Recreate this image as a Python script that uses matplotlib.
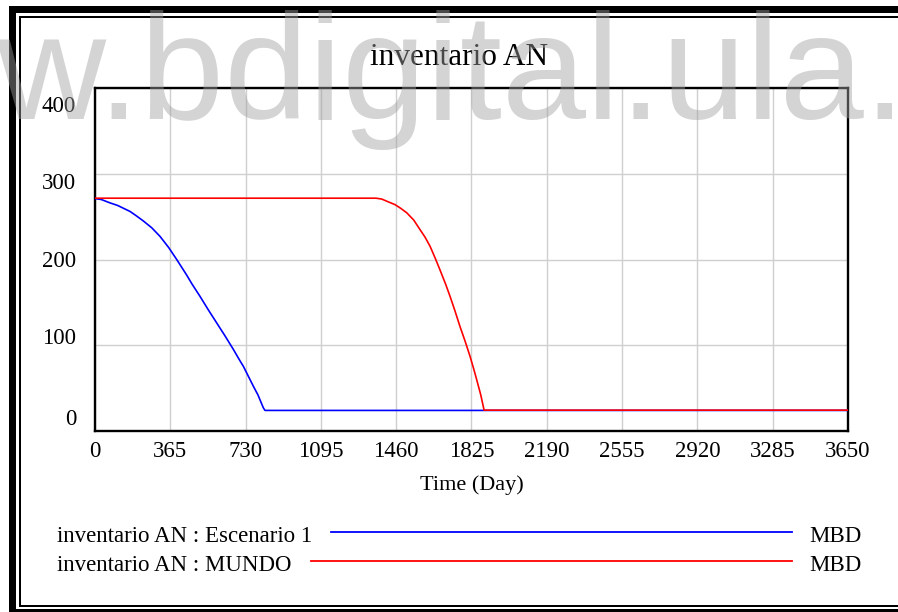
import matplotlib
matplotlib.use("Agg")
import matplotlib.pyplot as plt
from matplotlib.patches import Rectangle
from matplotlib.lines import Line2D
from matplotlib.transforms import ScaledTranslation

# ---------------- data ----------------
title = "inventario AN"
x_label = "Time (Day)"
x_ticks = [0, 365, 730, 1095, 1460, 1825, 2190, 2555, 2920, 3285, 3650]
y_ticks = [0, 100, 200, 300, 400]

series_names = ["inventario AN : Escenario 1", "inventario AN : MUNDO"]
series_units = ["MBD", "MBD"]
series_colors = ["#0000ff", "#ff0000"]

esc1_days = [0, 30, 73, 110, 170, 200, 234, 275, 315, 357, 396, 444, 470, 509,
             550, 590, 630, 671, 700, 719, 768, 790, 816, 824, 3650]
esc1_vals = [271, 270, 266, 263, 256, 251, 245, 237, 227, 214, 200, 182, 171.5, 157,
             141, 126, 111, 95, 83, 75.5, 52, 42, 27, 24, 24]

mundo_days = [0, 1362, 1390, 1414, 1454, 1480, 1511, 1545, 1575, 1600, 1624, 1650,
              1672, 1700, 1721, 1745, 1769, 1795, 1818, 1835, 1850, 1870, 1886, 3650]
mundo_vals = [271.5, 271.5, 270.5, 268, 264, 260, 254.5, 246, 235, 226, 215.5, 201,
              188, 171, 157, 140, 122, 104, 87, 73, 60, 42, 24.3, 24.3]

watermark = "www.bdigital.ula.ve"

# ---------------- layout ----------------
W, H, DPI = 898, 612, 100
plt.rcParams["font.family"] = ["Liberation Serif", "DejaVu Serif"]

fig = plt.figure(figsize=(W / DPI, H / DPI), dpi=DPI)
fig.patch.set_facecolor("white")


def fx(px):
    return px / W


def fy(py):
    return 1 - py / H


L, R, T, B = 95, 848, 88, 431
ax = fig.add_axes([fx(L), fy(B), (R - L) / W, (B - T) / H])
ax.set_xlim(x_ticks[0], x_ticks[-1])
ax.set_ylim(y_ticks[0], y_ticks[-1])
ax.set_axisbelow(True)
ax.grid(True, color="#cfcfcf", lw=1.0)
for s in ax.spines.values():
    s.set_linewidth(1.7)
    s.set_color("black")

ax.set_xticks(x_ticks)
ax.set_xticklabels([str(v) for v in x_ticks])
ax.set_yticks(y_ticks)
ax.set_yticklabels([str(v) for v in y_ticks])
ax.tick_params(axis="both", length=0, labelsize=16.5)
ax.tick_params(axis="x", pad=7)
ax.tick_params(axis="y", pad=13.5)

# Vensim places y labels slightly compressed relative to grid lines
y_label_offsets_px = [-6, -1, 7.2, 15.5, 24]
for tick, off in zip(ax.yaxis.get_major_ticks(), y_label_offsets_px):
    tick.label1.set_va("baseline")
    tick.label1.set_transform(tick.label1.get_transform()
                              + ScaledTranslation(0, -off / DPI, fig.dpi_scale_trans))

ax.plot(esc1_days, esc1_vals, color=series_colors[0], lw=1.2, zorder=3)
ax.plot(mundo_days, mundo_vals, color=series_colors[1], lw=1.2, zorder=4)

ax.set_xlabel(x_label, fontsize=16)
ax.xaxis.set_label_coords(0.5, (B - 490) / (B - T))
ax.xaxis.label.set_va("baseline")

fig.text(fx(459), fy(65), title, ha="center", va="baseline", fontsize=22.5)

# ---------------- legend ----------------
renderer = fig.canvas.get_renderer()
row_base = [541.7, 570.7]
row_line = [532.3, 561.3]
for name, unit, col, yb, yl in zip(series_names, series_units, series_colors, row_base, row_line):
    t = fig.text(fx(57), fy(yb), name, ha="left", va="baseline", fontsize=16.5)
    bb = t.get_window_extent(renderer)
    x0 = bb.x1 + 19
    fig.add_artist(Line2D([fx(x0), fx(791.5)], [fy(yl), fy(yl)], color=col, lw=1.3,
                          transform=fig.transFigure))
    fig.text(fx(809), fy(yb), unit, ha="left", va="baseline", fontsize=16.5)

# ---------------- frame ----------------
def rect(x0, y0, x1, y1):
    fig.add_artist(Rectangle((fx(x0), fy(y1)), (x1 - x0) / W, (y1 - y0) / H,
                             transform=fig.transFigure, facecolor="black",
                             edgecolor="none", zorder=5))

rect(9, 6, 16, 612)        # thick left
rect(9, 6, 898, 13.3)      # thick top
rect(18.5, 15.7, 20.5, 607.3)   # thin left
rect(18.5, 15.7, 898, 17.5)     # thin top
rect(18.5, 605.2, 898, 607.2)   # thin bottom
rect(9, 609.3, 898, 612)        # bottom line

# ---------------- watermark ----------------
fig.text(-222 / W, fy(119), watermark, ha="left", va="baseline", fontsize=109,
         family="Liberation Sans", color="#a0a0a0", alpha=0.45, zorder=10)

fig.savefig("out.png", dpi=DPI)
